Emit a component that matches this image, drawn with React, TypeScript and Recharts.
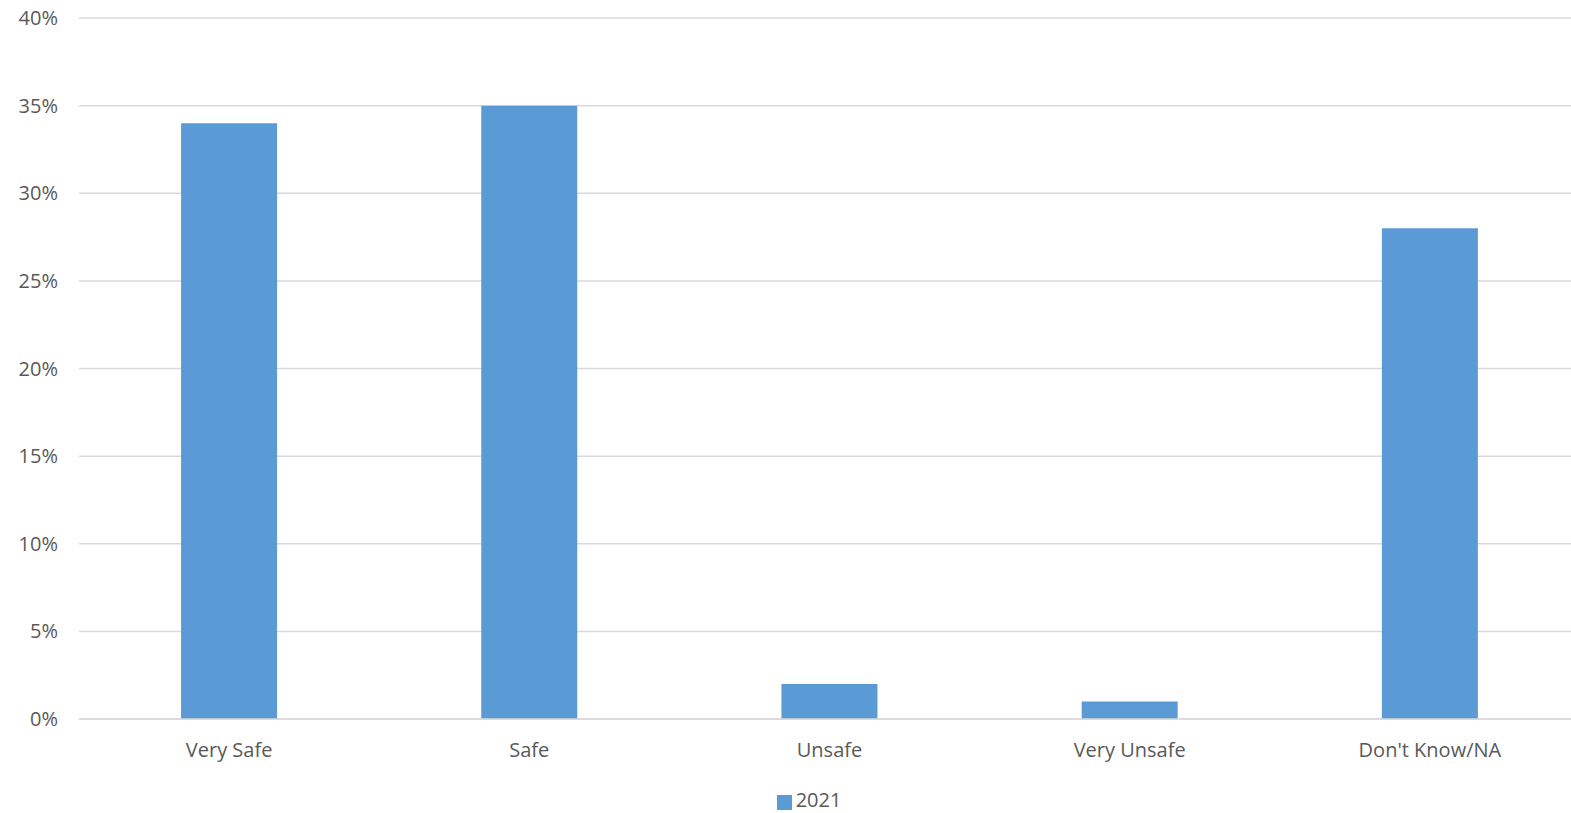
import { BarChart, Bar, XAxis, YAxis, CartesianGrid, Legend } from "recharts";

const categories = ["Very Safe", "Safe", "Unsafe", "Very Unsafe", "Don't Know/NA"];
const values2021 = [34, 35, 2, 1, 28];
const yTicks = [0, 5, 10, 15, 20, 25, 30, 35, 40];

const data = categories.map((c, i) => ({ category: c, y2021: values2021[i] }));

const FONT = "'Open Sans', sans-serif";
const TEXT = "#595959";

export default function App() {
  return (
    <div
      style={{
        position: "absolute",
        left: 0,
        top: 0,
        width: 1571,
        height: 813,
        overflow: "hidden",
        fontFamily: FONT,
      }}
    >
      {/* plot runs a little past the right edge, as in the original */}
      <BarChart
        width={1580}
        height={813}
        data={data}
        margin={{ top: 18, right: 0, left: 0, bottom: 0 }}
        barCategoryGap="34%"
      >
        <CartesianGrid vertical={false} stroke="#d9d9d9" strokeWidth={1.5} />
        <XAxis
          dataKey="category"
          tickLine={false}
          axisLine={{ stroke: "#d9d9d9", strokeWidth: 1.5 }}
          tick={{ fontSize: 20, fill: TEXT, fontFamily: FONT }}
          tickMargin={18}
          height={58}
        />
        <YAxis
          domain={[0, 40]}
          ticks={yTicks}
          width={79}
          axisLine={false}
          tickLine={false}
          tickMargin={15}
          tickFormatter={(v: number) => `${v}%`}
          tick={{ fontSize: 20, fill: TEXT, fontFamily: FONT }}
          interval={0}
        />
        <Legend
          verticalAlign="bottom"
          height={36}
          iconType="square"
          iconSize={15}
          formatter={(v: string) => (
            <span style={{ color: TEXT, fontSize: 20, fontFamily: FONT }}>{v}</span>
          )}
          wrapperStyle={{ top: 789, paddingLeft: 24, lineHeight: "22px" }}
        />
        <Bar dataKey="y2021" name="2021" fill="#5b9bd5" isAnimationActive={false} />
      </BarChart>
    </div>
  );
}
